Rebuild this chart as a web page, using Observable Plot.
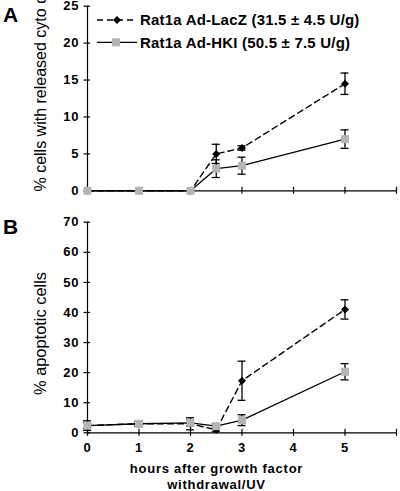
<!DOCTYPE html>
<html>
<head>
<meta charset="utf-8">
<script src="https://cdn.jsdelivr.net/npm/d3@7"></script>
<script src="https://cdn.jsdelivr.net/npm/@observablehq/plot@0.6"></script>
<style>
  body { margin: 0; background: #fff; }
  #wrap { position: relative; width: 400px; height: 491px; font-family: "Liberation Sans", Arial, sans-serif; }
  #wrap > .panel { position: absolute; left: 0; }
  #overlay { position: absolute; left: 0; top: 0; pointer-events: none; }
</style>
</head>
<body>
<div id="wrap"></div>
<script>
// ---- data ----
const hours = [0, 1, 2, 2.5, 3, 5];
const seriesNames = ["Rat1a Ad-LacZ (31.5 ± 4.5 U/g)", "Rat1a Ad-HKI (50.5 ± 7.5 U/g)"];

// Panel A: % cells with released cyto c
const cytoLacZ    = [0, 0, 0, 5.0, 5.8, 14.5];
const cytoLacZErr = [0, 0, 0, 1.3, 0.3, 1.45];
const cytoHKI     = [0, 0, 0, 3.0, 3.4, 7.0];
const cytoHKIErr  = [0, 0, 0, 1.2, 1.15, 1.25];

// Panel B: % apoptotic cells
const apopLacZ    = [2.4, 3.0, 3.0, 1.0, 17.3, 41.0];
const apopLacZErr = [1.6, 0.5, 2.0, 0.6, 6.5, 3.2];
const apopHKI     = [2.4, 3.0, 3.3, 2.2, 4.2, 20.3];
const apopHKIErr  = [1.0, 0.9, 1.0, 0.8, 1.8, 2.7];

const xTicks = [0, 1, 2, 3, 4, 5, 6];
const xTickLabels = [0, 1, 2, 3, 4, 5];
const cytoYTicks = [0, 5, 10, 15, 20, 25];
const apopYTicks = [0, 10, 20, 30, 40, 50, 60, 70];

const FONT = '"Liberation Sans", Arial, Helvetica, sans-serif';
const GRAY = "#b4b4b4";

function rows(vals, errs) {
  return hours.map((h, i) => ({h, v: vals[i], lo: vals[i] - errs[i], hi: vals[i] + errs[i], e: errs[i]}));
}

function panel({lacz, laczErr, hki, hkiErr, yTicks, yMax, height, marginTop, marginBottom, xLabels}) {
  const L = rows(lacz, laczErr), H = rows(hki, hkiErr);
  const LE = L.filter(d => d.e > 0), HE = H.filter(d => d.e > 0);
  const marks = [
    Plot.ruleY([0], {stroke: "black", strokeWidth: 1.2}),
    Plot.ruleX([0], {stroke: "black", strokeWidth: 1.2}),
    Plot.ruleX(xTicks, {x: d => d, y1: 0, y2: 0, insetTop: -3.5, insetBottom: -3.5, stroke: "black", strokeWidth: 1.2}),
    Plot.ruleY(yTicks, {y: d => d, x1: 0, x2: 0, insetLeft: -3.5, insetRight: -3, stroke: "black", strokeWidth: 1.2}),
    Plot.text(yTicks, {x: 0, y: d => d, text: d => String(d), textAnchor: "end", dx: -8.5,
      fontSize: 13, fontWeight: "bold", fill: "black"}),
    Plot.line(L, {x: "h", y: "v", stroke: "black", strokeWidth: 1.4, strokeDasharray: "6,4"}),
    Plot.line(H, {x: "h", y: "v", stroke: "black", strokeWidth: 1.3}),
    Plot.ruleX(LE, {x: "h", y1: "lo", y2: "hi", stroke: "black", strokeWidth: 1.3}),
    Plot.ruleY(LE, {y: "hi", x1: "h", x2: "h", insetLeft: -4, insetRight: -4, stroke: "black", strokeWidth: 1.3}),
    Plot.ruleY(LE, {y: "lo", x1: "h", x2: "h", insetLeft: -4, insetRight: -4, stroke: "black", strokeWidth: 1.3}),
    Plot.dot(L, {x: "h", y: "v", symbol: "diamond2", r: 3.6, fill: "black", stroke: "none"}),
    Plot.ruleX(HE, {x: "h", y1: "lo", y2: "hi", stroke: "black", strokeWidth: 1.3}),
    Plot.ruleY(HE, {y: "hi", x1: "h", x2: "h", insetLeft: -4, insetRight: -4, stroke: "black", strokeWidth: 1.3}),
    Plot.ruleY(HE, {y: "lo", x1: "h", x2: "h", insetLeft: -4, insetRight: -4, stroke: "black", strokeWidth: 1.3}),
    Plot.dot(H, {x: "h", y: "v", symbol: "square", r: 4.5, fill: GRAY, stroke: "none"})
  ];
  if (xLabels) {
    marks.push(Plot.text(xLabels, {x: d => d, y: 0, text: d => String(d), dy: 14.7, lineAnchor: "middle",
      fontSize: 13, fontWeight: "bold", fill: "black"}));
  }
  return Plot.plot({
    width: 400, height, marginLeft: 87, marginRight: 4, marginTop, marginBottom,
    x: {domain: [0, 6], axis: null},
    y: {domain: [0, yMax], axis: null},
    style: {fontFamily: FONT, background: "transparent", overflow: "visible", color: "black", letterSpacing: "0.6px"},
    marks
  });
}

const wrap = document.getElementById("wrap");

const panelA = panel({lacz: cytoLacZ, laczErr: cytoLacZErr, hki: cytoHKI, hkiErr: cytoHKIErr,
  yTicks: cytoYTicks, yMax: 25, height: 200, marginTop: 5.7, marginBottom: 9.7, xLabels: null});
panelA.classList.add("panel");
panelA.style.top = "0px";
wrap.appendChild(panelA);

const panelB = panel({lacz: apopLacZ, laczErr: apopLacZErr, hki: apopHKI, hkiErr: apopHKIErr,
  yTicks: apopYTicks, yMax: 70, height: 291, marginTop: 21.7, marginBottom: 58.7, xLabels: xTickLabels});
panelB.classList.add("panel");
panelB.style.top = "200px";
wrap.appendChild(panelB);

// ---- overlay: panel letters, axis titles, legend ----
const ns = "http://www.w3.org/2000/svg";
const ov = document.createElementNS(ns, "svg");
ov.setAttribute("id", "overlay");
ov.setAttribute("width", 400);
ov.setAttribute("height", 491);
ov.style.overflow = "hidden";
wrap.appendChild(ov);

function el(tag, attrs, text) {
  const e = document.createElementNS(ns, tag);
  for (const k in attrs) e.setAttribute(k, attrs[k]);
  if (text != null) e.textContent = text;
  ov.appendChild(e);
  return e;
}
el("text", {x: 3, y: 21.7, "font-family": FONT, "font-size": 21, "font-weight": "bold"}, "A");
el("text", {x: 3, y: 233.5, "font-family": FONT, "font-size": 21, "font-weight": "bold"}, "B");
el("text", {transform: "translate(46,191.5) rotate(-90)", "font-family": FONT, "font-size": 16, "text-anchor": "start"},
  "% cells with released cyto c");
el("text", {transform: "translate(46,395) rotate(-90)", "font-family": FONT, "font-size": 16.4, "text-anchor": "start"},
  "% apoptotic cells");
el("text", {x: 216.5, y: 472.7, "font-family": FONT, "font-size": 13, "font-weight": "bold", "text-anchor": "middle", "letter-spacing": 0.75},
  "hours after growth factor");
el("text", {x: 216.5, y: 489, "font-family": FONT, "font-size": 13, "font-weight": "bold", "text-anchor": "middle", "letter-spacing": 0.75},
  "withdrawal/UV");

// legend
const legY = [20, 42.3];
el("line", {x1: 97, x2: 137, y1: legY[0], y2: legY[0], stroke: "black", "stroke-width": 1.4, "stroke-dasharray": "6,4"});
el("path", {d: `M117,${legY[0]-4}L121,${legY[0]}L117,${legY[0]+4}L113,${legY[0]}Z`, fill: "black"});
el("line", {x1: 97, x2: 137, y1: legY[1], y2: legY[1], stroke: "black", "stroke-width": 1.3});
el("rect", {x: 112, y: legY[1] - 4, width: 8, height: 8, fill: GRAY});
seriesNames.forEach((s, i) => {
  el("text", {x: 140, y: legY[i] + 5.3, "font-family": FONT, "font-size": 15, "font-weight": "bold", "letter-spacing": 0.2}, s);
});
</script>
</body>
</html>
